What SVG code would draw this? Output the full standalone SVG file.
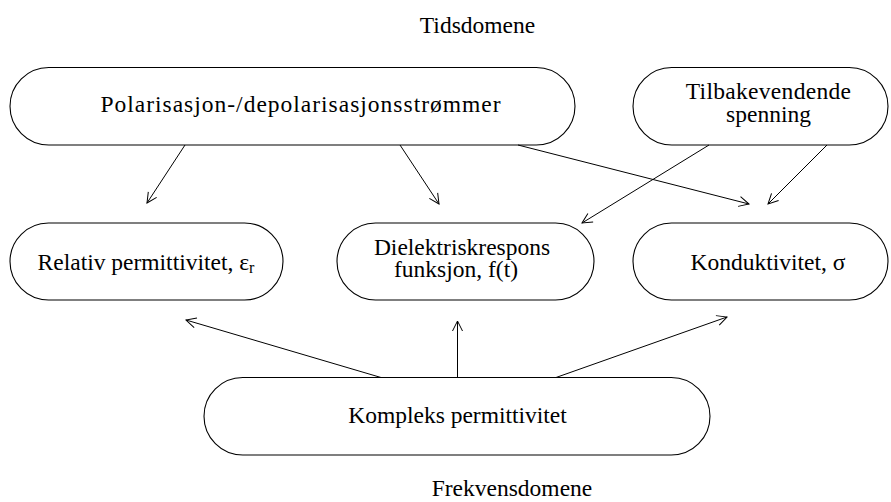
<svg xmlns="http://www.w3.org/2000/svg" width="891" height="502" viewBox="0 0 891 502">
<defs>
<style>
.box{fill:#fff;stroke:#000;stroke-width:1.1}
.t{font-family:"Liberation Serif","Times New Roman",serif;font-size:23.5px;fill:#000;text-anchor:middle}
.c{stroke:#000;stroke-width:1;fill:none;marker-end:url(#ah)}
</style>
<marker id="ah" markerUnits="userSpaceOnUse" viewBox="0 0 12 12" refX="11" refY="6" markerWidth="12" markerHeight="12" orient="auto">
<path d="M1,1 L11,6 L1,11" fill="none" stroke="#000" stroke-width="1"/>
</marker>
</defs>
<text class="t" x="477.5" y="33">Tidsdomene</text>
<text class="t" x="512" y="496">Frekvensdomene</text>
<g id="polarisasjon">
<rect class="box" x="10" y="67.5" width="565" height="77.5" rx="38.75"/>
<text class="t" x="301" y="112" style="letter-spacing:1px">Polarisasjon-/depolarisasjonsstrømmer</text>
</g>
<g id="tilbakevendende">
<rect class="box" x="633" y="67.5" width="255" height="77.5" rx="38.75"/>
<text class="t" x="768.5" y="99" style="letter-spacing:0.3px">Tilbakevendende</text>
<text class="t" x="768.5" y="122">spenning</text>
</g>
<g id="relativ">
<rect class="box" x="10" y="223" width="273" height="77" rx="38.5"/>
<text class="t" x="146" y="270">Relativ permittivitet, ε<tspan font-size="16" dy="3">r</tspan></text>
</g>
<g id="dielektrisk">
<rect class="box" x="337" y="223" width="257" height="77" rx="38.5"/>
<text class="t" x="462" y="255">Dielektriskrespons</text>
<text class="t" x="456" y="277">funksjon, f(t)</text>
</g>
<g id="konduktivitet">
<rect class="box" x="633" y="223" width="255" height="77" rx="38.5"/>
<text class="t" x="768" y="270">Konduktivitet, σ</text>
</g>
<g id="kompleks">
<rect class="box" x="204" y="377.5" width="506" height="77.5" rx="38.75"/>
<text class="t" x="457.5" y="423">Kompleks permittivitet</text>
</g>
<g id="connectors">
<line class="c" x1="185" y1="145" x2="147" y2="203"/>
<line class="c" x1="400" y1="145" x2="439" y2="204"/>
<line class="c" x1="518" y1="145" x2="749" y2="204"/>
<line class="c" x1="709" y1="145" x2="582" y2="223"/>
<line class="c" x1="827" y1="145" x2="768" y2="204"/>
<line class="c" x1="381" y1="377.5" x2="186" y2="320"/>
<line class="c" x1="457.5" y1="377.5" x2="457.5" y2="321"/>
<line class="c" x1="556" y1="377.5" x2="727" y2="317"/>
</g>
</svg>
